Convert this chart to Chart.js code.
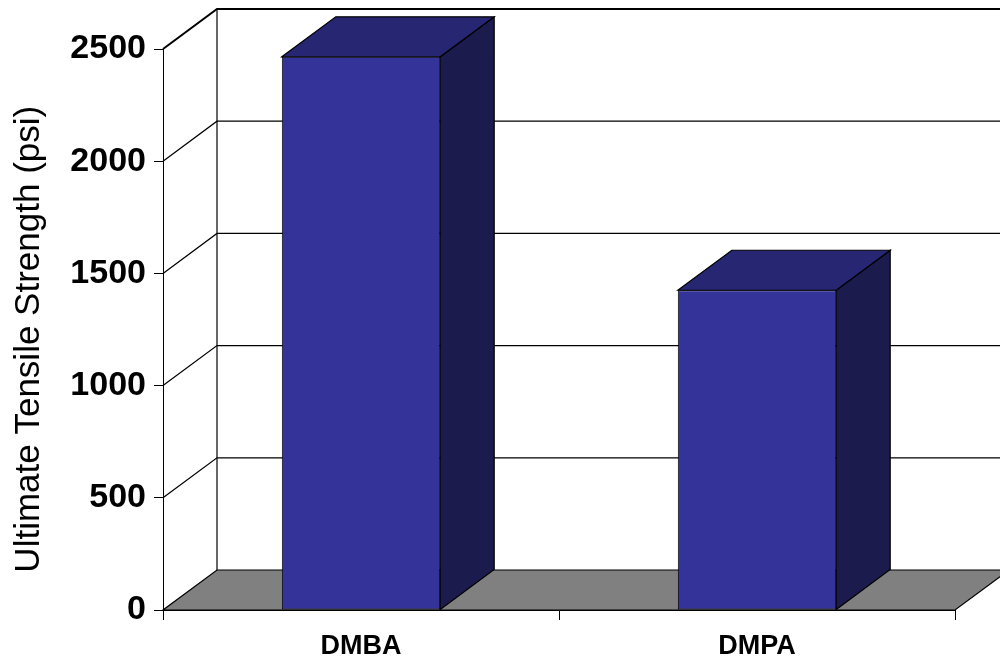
<!DOCTYPE html>
<html>
<head>
<meta charset="utf-8">
<script src="https://cdn.jsdelivr.net/npm/chart.js@4.4.0/dist/chart.umd.min.js"></script>
<style>
  html, body { margin: 0; padding: 0; background: #fff; }
  #wrap { width: 1000px; height: 660px; }
</style>
</head>
<body>
<div id="wrap"><canvas id="strengthChart"></canvas></div>
<script>
// Ultimate tensile strength per sample
const categories = ['DMBA', 'DMPA'];
const strengthValues = [2465, 1425];
const yTickStep = 500;
const yMax = 2500;

// Depth of the pseudo-3D box, in pixels
const DEPTH_X = 54;
const DEPTH_Y = -40;

const colors = {
    face: '#333399',
    top: '#262673',
    side: '#1b1b4d',
    floor: '#808080',
    line: '#000000'
};

function poly(ctx, pts, fill) {
    ctx.beginPath();
    ctx.moveTo(pts[0][0], pts[0][1]);
    for (let i = 1; i < pts.length; i++) ctx.lineTo(pts[i][0], pts[i][1]);
    ctx.closePath();
    if (fill) {
        ctx.fillStyle = fill;
        ctx.fill();
    }
    ctx.stroke();
}

// Walls, floor and the side/top faces of each bar
const box3d = {
    id: 'box3d',
    beforeDatasetsDraw(chart) {
        const { ctx, chartArea: a, scales: { y } } = chart;
        const dx = DEPTH_X, dy = DEPTH_Y;
        ctx.save();
        ctx.strokeStyle = colors.line;
        ctx.lineWidth = 1;

        // back wall gridlines and left wall diagonals
        for (let v = yTickStep; v <= yMax; v += yTickStep) {
            const py = y.getPixelForValue(v);
            ctx.lineWidth = v === yMax ? 2 : 1.2;
            ctx.beginPath();
            ctx.moveTo(a.left, py);
            ctx.lineTo(a.left + dx, py + dy);
            ctx.lineTo(a.right + dx, py + dy);
            ctx.stroke();
        }
        ctx.lineWidth = 1.2;
        ctx.beginPath();
        ctx.moveTo(a.left + dx, a.top + dy);
        ctx.lineTo(a.left + dx, a.bottom + dy);
        ctx.stroke();

        // floor
        poly(ctx, [
            [a.left, a.bottom], [a.right, a.bottom],
            [a.right + dx, a.bottom + dy], [a.left + dx, a.bottom + dy]
        ], colors.floor);

        // bar sides and tops
        chart.getDatasetMeta(0).data.forEach(bar => {
            const l = bar.x - bar.width / 2;
            const r = bar.x + bar.width / 2;
            poly(ctx, [
                [r, bar.y], [r + dx, bar.y + dy],
                [r + dx, bar.base + dy], [r, bar.base]
            ], colors.side);
            poly(ctx, [
                [l, bar.y], [l + dx, bar.y + dy],
                [r + dx, bar.y + dy], [r, bar.y]
            ], colors.top);
        });
        ctx.restore();
    }
};

const font = '"Liberation Sans", Arial, Helvetica, sans-serif';

new Chart(document.getElementById('strengthChart'), {
    type: 'bar',
    data: {
        labels: categories,
        datasets: [{
            data: strengthValues,
            backgroundColor: colors.face,
            borderColor: colors.line,
            borderWidth: 1,
            borderSkipped: false,
            barPercentage: 1,
            categoryPercentage: 0.4
        }]
    },
    options: {
        responsive: true,
        maintainAspectRatio: false,
        animation: false,
        layout: { padding: { top: 49, right: 45, bottom: 0, left: 4 } },
        plugins: {
            legend: { display: false },
            tooltip: { enabled: false }
        },
        scales: {
            x: {
                afterFit(scale) { scale.height = 50; },
                grid: {
                    offset: true,
                    drawOnChartArea: false,
                    tickLength: 10,
                    color: colors.line
                },
                border: { color: colors.line, width: 1 },
                ticks: {
                    padding: 10,
                    color: '#000',
                    font: { family: font, size: 27, weight: 'bold' }
                }
            },
            y: {
                min: 0,
                max: yMax,
                afterFit(scale) { scale.width = 159; },
                grid: {
                    drawOnChartArea: false,
                    tickLength: 9,
                    color: colors.line
                },
                border: { color: colors.line, width: 1 },
                ticks: {
                    stepSize: yTickStep,
                    padding: 8,
                    color: '#000',
                    font: { family: font, size: 34, weight: 'bold' },
                    callback: v => String(v)
                },
                title: {
                    display: true,
                    // trailing spaces nudge the rotated title toward the floor
                    text: 'Ultimate Tensile Strength (psi)  ',
                    color: '#000',
                    padding: { top: 4, bottom: 4 },
                    font: { family: font, size: 35, weight: 'normal' }
                }
            }
        }
    },
    plugins: [box3d]
});
</script>
</body>
</html>
